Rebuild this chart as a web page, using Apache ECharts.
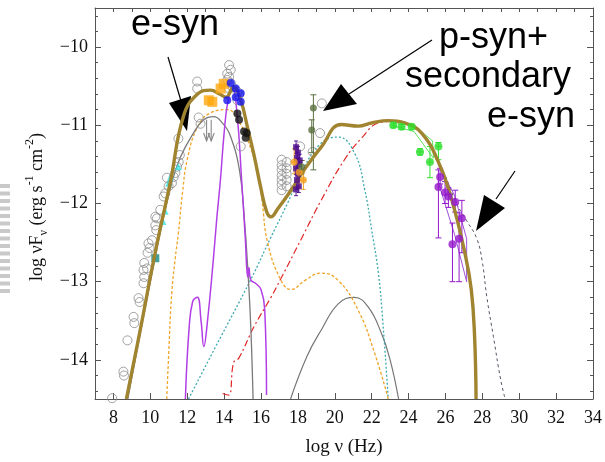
<!DOCTYPE html>
<html><head><meta charset="utf-8">
<script src="https://cdn.jsdelivr.net/npm/echarts@6/dist/echarts.min.js"></script>
<style>html,body{margin:0;padding:0;background:#fff}#c{width:605px;height:462px}</style>
</head><body><div id="c"></div>
<script>
// ---- tick labels ----
const xTickValues = [8,10,12,14,16,18,20,22,24,26,28,30,32,34];
const xTopTicks = [8,9,10,11,12,13,14,15,16,17,18,19,20,21,22,23,24,25,26,27,28,29,30,31,32,33];
const yMajorTicks = [-14,-13,-12,-11,-10];
const yMinorTicks = [-14.4,-14.2,-13.8,-13.6,-13.4,-13.2,-12.8,-12.6,-12.4,-12.2,-11.8,-11.6,-11.4,-11.2,-10.8,-10.6,-10.4,-10.2,-9.8,-9.6];

// ---- model curves [log nu, log nuFnu] ----
const totalModel = [[8.7,-14.5],[9.45,-13.62],[10.27,-12.62],[11.09,-11.72],[11.8,-10.88],[12.56,-10.6],[13.27,-10.55],[13.75,-10.6],[14.1,-10.64],[14.5,-10.51],[14.9,-10.68],[15.28,-11.04],[15.61,-11.37],[15.99,-11.8],[16.3,-12.1],[16.54,-12.17],[16.9,-12.07],[17.63,-11.83],[18.34,-11.57],[19.26,-11.28],[20.35,-10.99],[21.28,-11.01],[21.99,-10.97],[22.91,-10.94],[23.78,-10.97],[24.71,-11.1],[25.64,-11.48],[26.35,-11.96],[27.05,-12.63],[27.4,-13.1],[27.58,-13.7],[27.66,-14.5]];
const eSynModel = [[8.78,-14.5],[10.27,-12.68],[11.09,-11.8],[11.63,-11.41],[12.34,-11.1],[12.9,-10.93],[13.43,-10.89],[13.9,-10.97],[14.36,-11.15],[14.85,-11.6],[15.1,-12.2],[15.3,-12.9],[15.45,-13.6],[15.57,-14.5]];
const secondaryModel = [[10.89,-14.5],[11.0,-13.9],[11.16,-13.15],[11.35,-12.7],[11.52,-12.38],[11.75,-11.85],[12.0,-11.44],[12.56,-11.02],[13.27,-10.84],[14.19,-10.8],[14.74,-10.93],[15.28,-11.19],[15.83,-11.61],[16.05,-11.95],[16.36,-12.5],[17.08,-12.98],[17.63,-13.1],[18.4,-12.98],[19.26,-12.89],[20.17,-12.98],[21.26,-13.36],[22.17,-13.92],[22.9,-14.5]];
const protonModel = [[11.9,-14.5],[12.1,-13.6],[12.3,-13.25],[12.55,-13.2],[12.75,-13.5],[12.9,-13.83],[13.1,-13.5],[13.4,-12.76],[13.6,-12.2],[13.8,-11.7],[14.0,-11.1],[14.2,-10.7],[14.45,-10.52],[14.7,-10.85],[14.95,-11.7],[15.15,-12.45],[15.28,-12.94],[15.34,-12.82],[15.45,-12.98],[15.7,-13.02],[16.0,-13.1],[16.2,-13.35],[16.3,-14.45]];
const pSynModel = [[12.07,-14.5],[13.5,-13.85],[15.45,-12.97],[16.54,-12.43],[17.45,-11.99],[18.35,-11.53],[19.26,-11.23],[20.17,-11.15],[21.08,-11.36],[21.63,-11.83],[22.0,-12.34],[22.37,-12.9],[22.6,-13.5],[22.9,-14.5]];
const muSynModel = [[13.92,-14.43],[14.25,-14.45],[14.52,-14.03],[14.79,-13.98],[15.61,-13.58],[16.54,-13.2],[17.08,-12.96],[18.17,-12.46],[19.26,-11.96],[20.5,-11.45],[21.5,-11.15],[22.35,-10.97],[23.0,-10.95]];
const pionModel = [[17.6,-14.5],[18.5,-13.95],[19.26,-13.62],[20.2,-13.28],[21.06,-13.2],[21.8,-13.32],[22.53,-13.66],[23.0,-14.0],[23.46,-14.5]];
const unabsorbedModel = [[25.3,-11.3],[26.0,-11.65],[26.6,-12.0],[27.15,-12.22],[27.7,-12.45],[28.0,-12.75],[28.24,-13.19],[28.6,-13.7],[29.0,-14.26],[29.24,-14.5]];
const fermiBowtie = [[23.2,-10.97],[24.2,-10.98],[25.3,-11.2],[25.35,-11.42],[24.3,-11.08],[23.2,-11.01],[23.2,-10.97]];
const tevBowtie = [[25.6,-11.5],[26.5,-11.9],[27.15,-12.45],[27.15,-13.0],[26.5,-12.4],[25.6,-11.72]];

// ---- data points ----
const archival = [[7.93,-14.49],[8.54,-14.15],[8.57,-14.2],[8.76,-13.75],[9.09,-13.45],[9.13,-13.53],[9.36,-13.21],[9.42,-13.26],[9.63,-13.02],[9.67,-12.94],[9.63,-12.85],[9.67,-12.76],[9.82,-12.83],[9.85,-12.63],[9.96,-12.57],[9.9,-12.51],[10.09,-12.47],[10.32,-12.34],[10.27,-12.28],[10.36,-12.19],[10.27,-12.17],[10.54,-12.08],[10.72,-11.91],[10.81,-11.87],[10.99,-11.78],[10.9,-11.67],[11.17,-11.74],[11.27,-11.66],[11.36,-11.61],[11.45,-11.53],[11.54,-11.47],[11.6,-11.38],[11.52,-11.17],[12.54,-10.44],[12.54,-10.53],[12.62,-10.9],[12.72,-10.98],[14.27,-10.23],[14.36,-10.29],[14.17,-10.34],[14.27,-10.38],[14.17,-10.42],[14.36,-10.46],[14.45,-10.51],[14.27,-10.53],[14.72,-10.57],[14.81,-10.61],[14.72,-10.68],[14.9,-11.27],[17.12,-11.44],[17.12,-11.51],[17.12,-11.57],[17.12,-11.64],[17.12,-11.7],[17.12,-11.76],[17.12,-11.83],[17.39,-11.47],[17.39,-11.55],[17.39,-11.62],[17.39,-11.7],[17.39,-11.78],[18.12,-11.27],[19.3,-10.72],[19.2,-11.1],[18.8,-11.34]];
const opticalSquares = [[13.17,-10.68],[13.36,-10.7],[13.81,-10.53],[13.98,-10.47]];
const blueUV = [[14.36,-10.46],[14.63,-10.53],[14.9,-10.59],[14.17,-10.68],[14.9,-10.7],[14.63,-10.64]];
const blackUV = [[14.72,-10.85],[14.81,-10.93],[15.08,-11.08],[15.17,-11.16],[15.22,-11.1]];
const cyanRadio = [[10.99,-11.74],[10.81,-12.1],[10.69,-12.23],[11.09,-11.66],[11.52,-11.53]];
const tealRadio = [[10.27,-12.7]];
const upperLimits = [[13.05,-10.93,-11.2],[13.3,-10.93,-11.2]];
// [x, y, yLow, yHigh, xLow, xHigh]
const xrayIndigo = [[17.9,-11.28,-11.2,-11.36,17.8,18.0],[18.0,-11.35,-11.27,-11.43,17.9,18.1],[17.95,-11.42,-11.34,-11.5,17.85,18.05],[18.05,-11.5,-11.42,-11.58,17.95,18.15],[17.9,-11.55,-11.47,-11.63,17.8,18.0],[18.0,-11.62,-11.54,-11.7,17.9,18.1],[17.95,-11.7,-11.62,-11.78,17.85,18.05],[18.05,-11.78,-11.7,-11.86,17.95,18.15],[17.9,-11.82,-11.74,-11.9,17.8,18.0],[18.1,-11.45,-11.37,-11.53,18.0,18.2]];
const xrayOrange = [[17.8,-11.47,-11.3,-11.62,17.6,18.0],[18.07,-11.6,-11.45,-11.8,17.9,18.25],[18.3,-11.7,-11.6,-11.82,18.15,18.45]];
const xrayOlive = [[18.84,-10.78,-10.61,-11.57,18.84,18.84],[18.75,-11.06,-10.93,-11.35,18.75,18.75],[18.2,-11.53,-11.45,-11.62,18.2,18.2]];
const gammaGreen = [[23.17,-11.0,-10.97,-11.03,23.0,23.35],[23.62,-11.02,-10.99,-11.05,23.45,23.8],[24.17,-11.02,-10.99,-11.05,24.0,24.35],[24.62,-11.34,-11.3,-11.38,24.42,24.82],[25.16,-11.47,-11.27,-11.67,25.0,25.32],[25.62,-11.27,-11.22,-11.44,25.45,25.8]];
const tevViolet = [[25.71,-11.66,-11.55,-11.75,25.71,25.71],[25.62,-11.79,-11.57,-12.44,25.62,25.62],[25.98,-11.86,-11.72,-12.0,25.98,25.98],[26.16,-11.91,-11.8,-12.05,26.16,26.16],[26.53,-11.98,-11.83,-12.11,26.53,26.53],[26.89,-12.19,-11.96,-12.63,26.89,26.89],[26.74,-12.45,-12.12,-13.0,26.74,26.74],[26.38,-12.52,-12.25,-13.0,26.38,26.38]];

const SERIF = "'Liberation Serif','DejaVu Serif',serif";
const SANS = "'Liberation Sans',Arial,sans-serif";
const X_MIN = 7, X_MAX = 34, Y_MIN = -14.5, Y_MAX = -9.5;

function lineSeries(data, color, width, type, z){
  return {type:'line', data, showSymbol:false, symbol:'none', smooth:0.45,
    lineStyle:{color, width, type}, z: z||2, silent:true, clip:true, animation:false};
}
function errSeries(data, color, cap){
  return {type:'custom', data, z:4, animation:false, silent:true,
    renderItem:function(params, api){
      const x=api.value(0), y=api.value(1), lo=api.value(2), hi=api.value(3), xl=api.value(4), xh=api.value(5);
      const c=api.coord([x,y]), a=api.coord([x,lo]), b=api.coord([x,hi]), l=api.coord([xl,y]), r=api.coord([xh,y]);
      const ch=[];
      const st={stroke:color,lineWidth:1};
      if(Math.abs(a[1]-b[1])>1){
        ch.push({type:'line',shape:{x1:c[0],y1:a[1],x2:c[0],y2:b[1]},style:st});
        ch.push({type:'line',shape:{x1:c[0]-cap,y1:a[1],x2:c[0]+cap,y2:a[1]},style:st});
        ch.push({type:'line',shape:{x1:c[0]-cap,y1:b[1],x2:c[0]+cap,y2:b[1]},style:st});
      }
      if(Math.abs(l[0]-r[0])>1){
        ch.push({type:'line',shape:{x1:l[0],y1:c[1],x2:r[0],y2:c[1]},style:st});
      }
      return {type:'group',children:ch};
    }};
}
function scatter(data, symbol, size, color, border, z){
  return {type:'scatter', data: data.map(d=>[d[0],d[1]]), symbol, symbolSize:size, z:z||5, animation:false, silent:true,
    itemStyle: border ? {color:'rgba(0,0,0,0)', borderColor:color, borderWidth:1} : {color}};
}

const chart = echarts.init(document.getElementById('c'), null, {renderer:'canvas'});
const axisCommon = {type:'value', min:Y_MIN, max:Y_MAX, splitLine:{show:false}};
const minus = v => String(v).replace('-', '\u2212');

// stripes artefact at left
const stripes = [];
for(let i=0;i<15;i++){ stripes.push({type:'rect', shape:{x:0,y:184+i*7.5,width:10,height:4}, style:{fill:'#c9c9c9'}}); }

chart.setOption({
  backgroundColor:'#fff',
  animation:false,
  grid:{left:95, right:12, top:8, bottom:63, containLabel:false},
  xAxis:[
    {type:'value', min:X_MIN, max:X_MAX, position:'bottom', splitLine:{show:false},
     axisLine:{show:true, onZero:false, lineStyle:{color:'#555', width:1}},
     axisTick:{show:true, inside:true, length:6, customValues:xTickValues, lineStyle:{color:'#555'}},
     axisLabel:{show:true, customValues:xTickValues, margin:10, color:'#111', fontFamily:SERIF, fontSize:18},
     name:'log \u03bd (Hz)', nameLocation:'middle', nameGap:39, nameTextStyle:{color:'#111', fontFamily:SERIF, fontSize:19}},
    {type:'value', min:X_MIN, max:X_MAX, position:'top', splitLine:{show:false},
     axisLine:{show:true, onZero:false, lineStyle:{color:'#555', width:1}},
     axisTick:{show:true, inside:true, length:4, customValues:xTopTicks, lineStyle:{color:'#555'}},
     axisLabel:{show:false}}
  ],
  yAxis:[
    Object.assign({}, axisCommon, {position:'left',
      axisLine:{show:true, onZero:false, lineStyle:{color:'#555', width:1}},
      axisTick:{show:true, inside:true, length:6, customValues:yMajorTicks, lineStyle:{color:'#555'}},
      axisLabel:{show:true, customValues:yMajorTicks, margin:7, color:'#111', fontFamily:SERIF, fontSize:18, formatter:minus}}),
    Object.assign({}, axisCommon, {position:'left',
      axisLine:{show:false},
      axisTick:{show:true, inside:true, length:3, customValues:yMinorTicks, lineStyle:{color:'#555'}},
      axisLabel:{show:false}}),
    Object.assign({}, axisCommon, {position:'right',
      axisLine:{show:true, onZero:false, lineStyle:{color:'#555', width:1}},
      axisTick:{show:true, inside:true, length:6, customValues:yMajorTicks, lineStyle:{color:'#555'}},
      axisLabel:{show:false}}),
    Object.assign({}, axisCommon, {position:'right',
      axisLine:{show:false},
      axisTick:{show:true, inside:true, length:3, customValues:yMinorTicks, lineStyle:{color:'#555'}},
      axisLabel:{show:false}})
  ],
  series:[
    lineSeries(pionModel, '#777777', 1.2, 'solid'),
    lineSeries(muSynModel, '#e02828', 1.2, [7,3,2,3]),
    lineSeries(pSynModel, '#3fa9b0', 1.3, [2,2]),
    lineSeries(secondaryModel, '#f0a428', 1.3, [3,2]),
    lineSeries(eSynModel, '#7a7a7a', 1.3, 'solid'),
    lineSeries(protonModel, '#b23ee6', 1.5, 'solid'),
    lineSeries(unabsorbedModel, '#555566', 1, [3,3]),
    {type:'line', data:fermiBowtie, showSymbol:false, symbol:'none', lineStyle:{color:'#5ee05e', width:1}, z:3, silent:true, animation:false},
    {type:'line', data:tevBowtie, showSymbol:false, symbol:'none', lineStyle:{color:'#a050d8', width:1}, z:3, silent:true, animation:false},
    scatter(archival, 'circle', 9, '#8c8c8c', true, 3),
    scatter(cyanRadio, 'triangle', 7, '#3ce6e6', false, 4),
    scatter(tealRadio, 'rect', 8, '#138a80', false, 4),
    {type:'custom', data:upperLimits, z:4, animation:false, silent:true,
     renderItem:function(params, api){
       const a=api.coord([api.value(0),api.value(1)]), b=api.coord([api.value(0),api.value(2)]);
       const st={stroke:'#888',lineWidth:1.1,fill:null};
       return {type:'group',children:[
         {type:'line',shape:{x1:a[0],y1:a[1],x2:b[0],y2:b[1]},style:st},
         {type:'polyline',shape:{points:[[b[0]-3,b[1]-8],[b[0],b[1]],[b[0]+3,b[1]-8]]},style:st}
       ]};
     }},
    lineSeries(totalModel, '#a08430', 3.4, 'solid', 6),
    scatter(opticalSquares, 'rect', 10, '#ffa70f', false, 7),
    scatter(blueUV, 'circle', 8, '#1515f0', false, 7),
    scatter(blackUV, 'circle', 8, '#111111', false, 7),
    errSeries(xrayIndigo, '#5a1a9a', 2),
    errSeries(xrayOrange, '#f4a020', 2),
    scatter(xrayIndigo, 'rect', 6, '#4b0a8a', false, 7),
    scatter(xrayOrange, 'circle', 7, '#f4a020', false, 7),
    errSeries(xrayOlive, '#5b7040', 3),
    scatter(xrayOlive, 'circle', 7, '#5b7040', false, 7),
    errSeries(gammaGreen, '#2ee02e', 3),
    scatter(gammaGreen, 'circle', 8, '#2ee02e', false, 7),
    errSeries(tevViolet, '#9318cc', 3),
    scatter(tevViolet, 'circle', 8, '#9318cc', false, 7)
  ],
  graphic:[
    {type:'group', children:stripes, silent:true},
    {type:'text', x:37, y:207, rotation:Math.PI/2, silent:true,
     style:{text:'{n|log \u03bdF}{b|\u03bd}{n| (erg s}{p|-1}{n| cm}{p|-2}{n|)}', align:'center', verticalAlign:'middle',
       rich:{n:{fontFamily:SERIF, fontSize:18, fill:'#111', lineHeight:26, verticalAlign:'middle'},
             b:{fontFamily:SERIF, fontSize:12, fill:'#111', lineHeight:12, verticalAlign:'bottom'},
             p:{fontFamily:SERIF, fontSize:12, fill:'#111', lineHeight:12, verticalAlign:'top'}}}},
    {type:'text', x:131, y:25, silent:true, style:{text:'e-syn', font:'36px '+SANS, fill:'#000', verticalAlign:'middle'}},
    {type:'text', x:439, y:38, silent:true, style:{text:'p-syn+', font:'36px '+SANS, fill:'#000', verticalAlign:'middle'}},
    {type:'text', x:405, y:77, silent:true, style:{text:'secondary', font:'36px '+SANS, fill:'#000', verticalAlign:'middle'}},
    {type:'text', x:487, y:117, silent:true, style:{text:'e-syn', font:'36px '+SANS, fill:'#000', verticalAlign:'middle'}},
    {type:'line', shape:{x1:168,y1:57,x2:181,y2:101}, style:{stroke:'#000', lineWidth:1.2}, silent:true},
    {type:'polygon', shape:{points:[[169,103],[191,96],[187,131]]}, style:{fill:'#000'}, silent:true},
    {type:'line', shape:{x1:432,y1:40,x2:349,y2:94}, style:{stroke:'#000', lineWidth:1.2}, silent:true},
    {type:'polygon', shape:{points:[[341,84],[357,104],[323,111]]}, style:{fill:'#000'}, silent:true},
    {type:'line', shape:{x1:515,y1:171,x2:496,y2:199}, style:{stroke:'#000', lineWidth:1.2}, silent:true},
    {type:'polygon', shape:{points:[[484,195],[505,208],[476,231]]}, style:{fill:'#000'}, silent:true}
  ]
});
</script></body></html>
